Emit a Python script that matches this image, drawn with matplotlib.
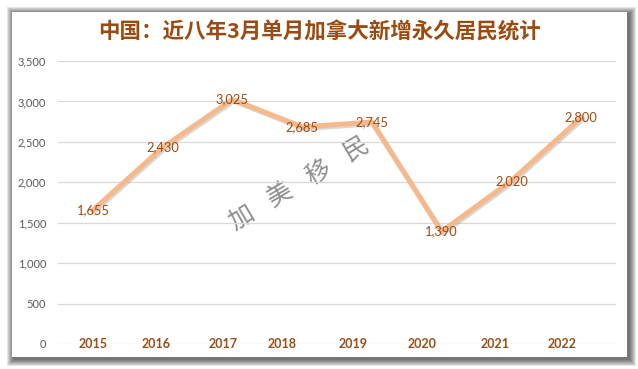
import matplotlib.pyplot as plt
import matplotlib.patheffects as pe
from matplotlib.patches import Rectangle
from matplotlib.ticker import FuncFormatter
import numpy as np

years = ["2015", "2016", "2017", "2018", "2019", "2020", "2021", "2022"]
values = [1655, 2430, 3025, 2685, 2745, 1390, 2020, 2800]
# the year labels in the source sit a little left of their points
label_shift = [0.0, -0.09, -0.13, -0.29, -0.27, -0.28, -0.23, -0.27]
y_ticks = [0, 500, 1000, 1500, 2000, 2500, 3000, 3500]

title = "中国：近八年3月单月加拿大新增永久居民统计"
watermark = ["加", "美", "移", "民"]

LINE = "#F5B98C"
BROWN = "#9C4B10"
GREY_TXT = "#595959"
W, H = 638, 369

fig = plt.figure(figsize=(W / 100, H / 100), dpi=100)
fig.patch.set_facecolor("white")

# card + soft drop shadow, in pixel coordinates
bg = fig.add_axes([0, 0, 1, 1], zorder=0)
bg.set_xlim(0, W)
bg.set_ylim(H, 0)
bg.axis("off")
x0, y0, x1, y1 = 12, 12, 627, 357
for k in range(7, 0, -1):
    bg.add_patch(Rectangle((x0 - k + 1.5, y0 - k + 2), (x1 - x0) + 2 * k, (y1 - y0) + 2 * k,
                           facecolor="black", edgecolor="none", alpha=0.1))
bg.add_patch(Rectangle((x0, y0), x1 - x0, y1 - y0, facecolor="white", edgecolor="none"))

# watermark along a slanted line
cx, cy, step, ang = 299, 184, 44.5, 30.6
rad = np.deg2rad(ang)
for i, ch in enumerate(watermark):
    d = (i - 1.5) * step
    bg.text(cx + d * np.cos(rad), cy - d * np.sin(rad), ch, rotation=ang,
            ha="center", va="center", fontsize=18, color="#8f8f8f",
            family=["Noto Sans CJK SC"], fontweight="light")

fig.text(0.5, 1 - 32 / H, title, ha="center", va="center", fontsize=15.5,
         fontweight="bold", color=BROWN, family=["Noto Sans CJK SC", "DejaVu Sans"])

ax = fig.add_axes([58 / W, 25 / H, (616 - 58) / W, (344 - 61) / H], zorder=1)
ax.set_facecolor("none")
xs = np.arange(len(years))
ax.plot(xs, values, color=LINE, lw=3.6, solid_joinstyle="miter", zorder=3,
        path_effects=[pe.SimpleLineShadow(offset=(1.0, -1.2), shadow_color="#7f7f7f", alpha=0.3),
                      pe.Normal()])
for x, v in zip(xs, values):
    ax.text(x, v, f"{v:,}", ha="center", va="center", fontsize=9.3, color=BROWN,
            family="Lato", zorder=4)

ax.set_xlim(-0.5, len(years) - 0.5)
ax.set_ylim(0, 3500)
ax.set_yticks(y_ticks)
ax.yaxis.set_major_formatter(FuncFormatter(lambda v, _: f"{int(v):,}"))
ax.set_xticks(xs + np.array(label_shift))
ax.set_xticklabels(years, fontsize=9, fontweight="bold", color=BROWN, family="Lato")
ax.tick_params(axis="x", length=0, pad=-4)
ax.tick_params(axis="y", length=0, pad=8.5, labelsize=8, labelcolor=GREY_TXT)
for lab in ax.get_yticklabels():
    lab.set_family("Lato")
ax.grid(axis="y", color="#d9d9d9", lw=0.9)
ax.set_axisbelow(True)
for s in ax.spines.values():
    s.set_visible(False)

fig.savefig("out.png", dpi=100)
